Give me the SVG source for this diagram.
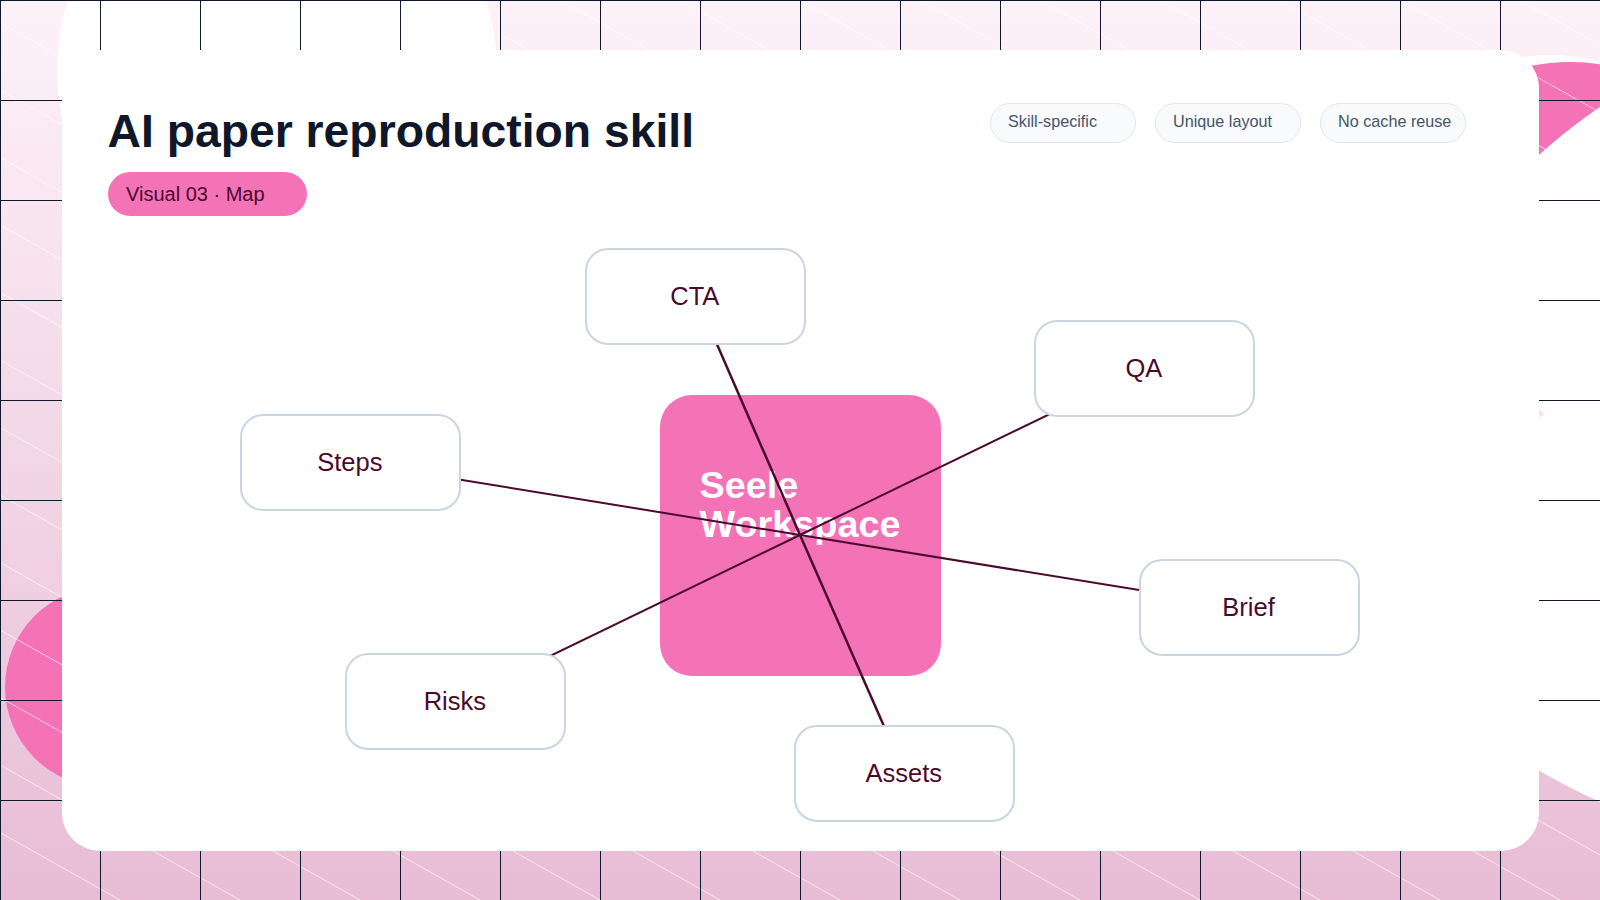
<svg xmlns="http://www.w3.org/2000/svg" width="1600" height="900" viewBox="0 0 1600 900">
<defs>
<linearGradient id="bg" x1="0" y1="0" x2="0" y2="1"><stop offset="0" stop-color="#fdf2f8"/><stop offset="1" stop-color="#e8bcd5"/></linearGradient>
</defs>
<style>
.sans{font-family:"Liberation Sans",Arial,sans-serif}
.node rect{fill:#fff;stroke:#cbd5e1;stroke-width:2}
.node text{font-size:25.5px;fill:#4a0a2e;text-anchor:middle}
.chip rect{fill:#f8fafc;stroke:#e2e8f0;stroke-width:1}
.chip text{font-size:16.2px;fill:#475569}
.grid{stroke:#0f172a;stroke-width:1;fill:none}
.hatch{stroke:#fff;stroke-width:.9;fill:none;opacity:.7}
#connectors line{stroke:#4a0a2e;stroke-width:2}
</style>
<g id="background">
<rect width="1600" height="900" fill="url(#bg)"/>
<circle cx="277" cy="70" r="220" fill="#fff"/>
<circle cx="105" cy="687" r="100" fill="#f472b6"/>
<circle cx="1550" cy="255" r="200" fill="#fff"/>
<circle cx="1570" cy="262" r="200" fill="#f472b6"/>
<path d="M1400 300Q1520 160 1600 107V802Q1520 766 1400 680Z" fill="#fff"/>
<polygon points="1539,409 1544,414 1539,419" fill="#fbe0ee"/>
<path class="hatch" d="M-1480 0L120 900M-1360 0L240 900M-1240 0L360 900M-1120 0L480 900M-1000 0L600 900M-880 0L720 900M-760 0L840 900M-640 0L960 900M-520 0L1080 900M-400 0L1200 900M-280 0L1320 900M-160 0L1440 900M-40 0L1560 900M80 0L1680 900M200 0L1800 900M320 0L1920 900M440 0L2040 900M560 0L2160 900M680 0L2280 900M800 0L2400 900M920 0L2520 900M1040 0L2640 900M1160 0L2760 900M1280 0L2880 900M1400 0L3000 900M1520 0L3120 900"/>
<path class="grid" d="M.5 0V900M100.5 0V900M200.5 0V900M300.5 0V900M400.5 0V900M500.5 0V900M600.5 0V900M700.5 0V900M800.5 0V900M900.5 0V900M1000.5 0V900M1100.5 0V900M1200.5 0V900M1300.5 0V900M1400.5 0V900M1500.5 0V900M0 .5H1600M0 100.5H1600M0 200.5H1600M0 300.5H1600M0 400.5H1600M0 500.5H1600M0 600.5H1600M0 700.5H1600M0 800.5H1600"/>
</g>
<rect id="card" x="62" y="50" width="1477" height="801" rx="38" fill="#fff"/>
<text class="sans" x="107.500" y="147" font-size="46.300" font-weight="700" fill="#0f172a">AI paper reproduction skill</text>
<g id="badge"><rect x="108" y="172" width="199" height="44" rx="22" fill="#f472b6"/><text class="sans" x="126" y="201" font-size="20" fill="#4a0a2e">Visual 03 · Map</text></g>
<g id="chip-1" class="chip sans"><rect x="990.500" y="103.500" width="145" height="39" rx="19.500"/><text x="1008" y="127">Skill-specific</text></g>
<g id="chip-2" class="chip sans"><rect x="1155.500" y="103.500" width="145" height="39" rx="19.500"/><text x="1173" y="127">Unique layout</text></g>
<g id="chip-3" class="chip sans"><rect x="1320.500" y="103.500" width="145" height="39" rx="19.500"/><text x="1338" y="127">No cache reuse</text></g>
<g id="hub"><rect x="660" y="395" width="281" height="281" rx="32" fill="#f472b6"/><text class="sans" font-size="37.800" font-weight="700" fill="#fff"><tspan x="699.500" y="497.500">Seele</tspan><tspan x="699.500" y="536.500">Workspace</tspan></text></g>
<g id="connectors">
<line x1="800" y1="535" x2="696" y2="296" style="stroke-width:2.5"/>
<line x1="800" y1="535" x2="1145" y2="368"/>
<line x1="800" y1="535" x2="351" y2="462"/>
<line x1="800" y1="535" x2="1250" y2="608"/>
<line x1="800" y1="535" x2="455" y2="702"/>
<line x1="800" y1="535" x2="905" y2="774" style="stroke-width:2.5"/>
</g>
<g id="node-cta" class="node sans"><rect x="586" y="249" width="219" height="95" rx="22"/><text x="694.800" y="304.500">CTA</text></g>
<g id="node-qa" class="node sans"><rect x="1035" y="321" width="219" height="95" rx="22"/><text x="1143.800" y="376.500">QA</text></g>
<g id="node-steps" class="node sans"><rect x="241" y="415" width="219" height="95" rx="22"/><text x="349.800" y="471">Steps</text></g>
<g id="node-brief" class="node sans"><rect x="1140" y="560" width="219" height="95" rx="22"/><text x="1248.500" y="616">Brief</text></g>
<g id="node-risks" class="node sans"><rect x="346" y="654" width="219" height="95" rx="22"/><text x="454.800" y="710">Risks</text></g>
<g id="node-assets" class="node sans"><rect x="795" y="726" width="219" height="95" rx="22"/><text x="903.800" y="782">Assets</text></g>
</svg>
